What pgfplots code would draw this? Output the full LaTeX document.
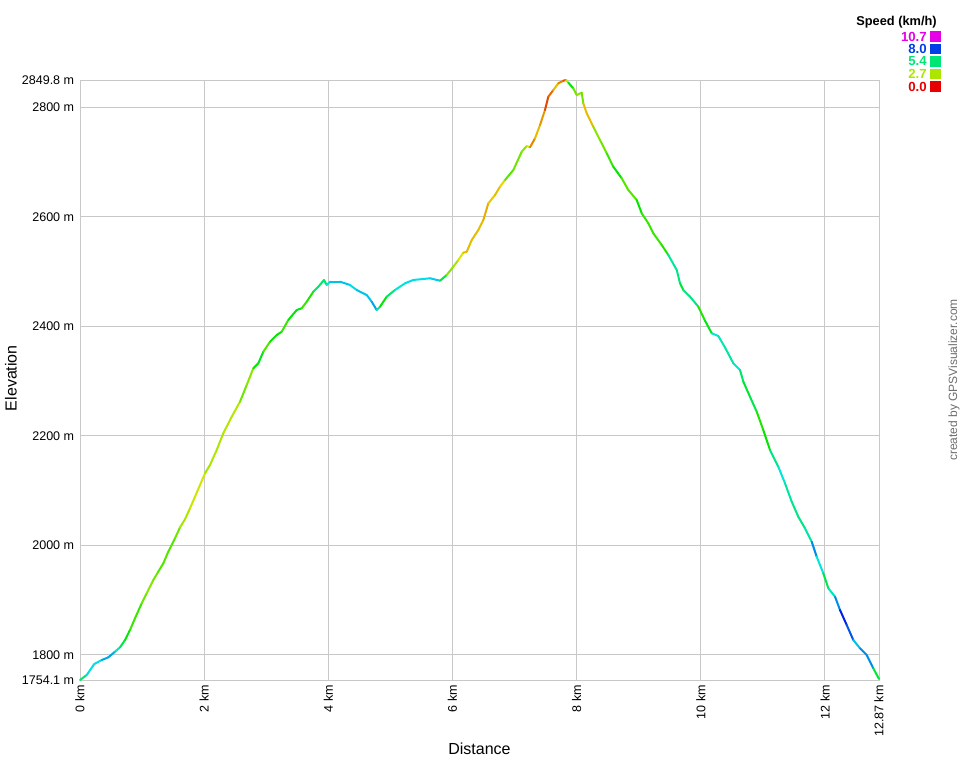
\documentclass[border=0pt]{standalone}
\usepackage{fontspec}
\setmainfont{Liberation Sans}
\usepackage{pgfplots}
\usepackage{pgfplotstable}
\pgfplotsset{compat=1.18}

\definecolor{gridgray}{RGB}{200,200,200}
\definecolor{sp0}{RGB}{230,0,0}
\definecolor{sp1}{RGB}{172,230,0}
\definecolor{sp2}{RGB}{0,230,118}
\definecolor{sp3}{RGB}{0,62,230}
\definecolor{sp4}{RGB}{230,0,230}

% distance (km), elevation (m), speed (km/h)
\pgfplotstableread{
d e s
0.000 1754.1 4
0.108 1763.2 6.5
0.230 1783.3 6.5
0.350 1790.6 6.5
0.456 1795.5 7.5
0.564 1805.8 6.5
0.644 1813.8 5.5
0.725 1827.1 4.5
0.805 1845.4 4
0.886 1866.8 3.5
0.994 1894.2 4
1.074 1912.4 2.5
1.181 1936.7 3.5
1.261 1951.9 3
1.342 1967.2 4
1.422 1988.4 3
1.530 2012.9 4
1.611 2032.9 2.5
1.691 2047.6 3
1.772 2067.6 2.3
1.852 2088.8 2.5
1.933 2110.2 2.2
2.014 2131.6 2.5
2.094 2146.7 3
2.202 2174.1 2.3
2.308 2204.6 3
2.444 2234.9 2.2
2.577 2262.3 3
2.685 2292.8 3.5
2.792 2323.3 2.5
2.872 2332.4 6
2.953 2353.6 3
3.061 2371.9 4
3.169 2384.1 4.5
3.249 2390.1 4
3.355 2411.5 3.5
3.491 2429.8 5
3.571 2432.9 4
3.652 2444.9 3.5
3.758 2463.2 4.5
3.839 2472.3 6
3.930 2484.6 4.5
3.974 2475.4 6
4.027 2481.5 6.5
4.188 2481.5 7
4.349 2475.4 6.5
4.457 2466.3 6.5
4.618 2457.2 7
4.699 2444.9 6.5
4.779 2429.8 7.5
4.832 2435.8 4
4.940 2454.1 4.5
5.074 2466.3 6
5.235 2478.5 6.5
5.369 2484.6 6.5
5.638 2487.7 6.5
5.799 2483.3 6.8
5.907 2493.7 3
6.013 2508.8 3
6.094 2521.1 2.5
6.174 2534.4 2
6.229 2536.2 1.5
6.310 2557.6 2
6.416 2575.9 1.5
6.497 2594.1 2
6.577 2624.6 1.2
6.685 2639.8 2.5
6.765 2654.9 1
6.846 2667.2 3
6.980 2685.4 4
7.115 2718.9 2.5
7.196 2729.3 3.5
7.249 2726.9 1
7.329 2743.3 1.5
7.410 2767.6 2
7.490 2795.0 0.8
7.543 2819.3 0.5
7.624 2831.5 1.5
7.705 2843.8 2
7.785 2848.5 0.5
7.829 2849.8 1
7.866 2844.9 4
7.946 2834.6 4.5
8.001 2822.4 2
8.081 2826.6 4
8.107 2807.2 2.5
8.162 2789.0 1
8.268 2764.5 2.5
8.376 2740.2 3.5
8.484 2715.9 3
8.590 2691.5 4.5
8.726 2670.3 4
8.832 2648.9 3
8.967 2630.7 4
9.048 2606.4 4.5
9.154 2588.1 3
9.235 2569.8 4.5
9.370 2548.5 3
9.477 2530.2 5
9.612 2502.8 6.5
9.665 2478.5 4.5
9.718 2466.3 5
9.826 2454.1 6
9.960 2435.8 5
10.068 2410.1 3
10.176 2387.2 6
10.282 2382.3 6.5
10.390 2361.3 5.5
10.524 2332.4 6
10.631 2320.2 6.5
10.685 2298.8 4
10.792 2271.4 5.5
10.900 2244.1 4.5
11.006 2210.6 3.5
11.114 2174.1 5
11.248 2143.6 6
11.356 2113.3 6.5
11.464 2079.7 5
11.570 2052.3 6
11.678 2031.1 5
11.786 2006.6 6.5
11.866 1979.3 8
11.973 1948.9 4.5
12.054 1921.5 5.5
12.162 1906.2 6.5
12.242 1881.9 8
12.350 1854.5 8.5
12.456 1827.1 7
12.564 1812.0 6.5
12.672 1799.7 8
12.778 1775.4 6.5
12.870 1756.0 3
}\track

\begin{document}
\begin{tikzpicture}
\path[use as bounding box] (0,0) rectangle (720pt,-570pt);
\begin{axis}[
  at={(60pt,-510pt)}, anchor=south west,
  scale only axis, width=599.25pt, height=450pt,
  xmin=0, xmax=12.87, ymin=1754.1, ymax=2849.8,
  clip=false,
  axis line style={gridgray, line width=0.75pt},
  grid=major,
  major grid style={gridgray, line width=0.75pt},
  major tick length=0pt,
  xtick={0,2,4,6,8,10,12,12.87},
  xticklabels={0 km,2 km,4 km,6 km,8 km,10 km,12 km,12.87 km},
  ytick={1754.1,1800,2000,2200,2400,2600,2800,2849.8},
  yticklabels={1754.1 m,1800 m,2000 m,2200 m,2400 m,2600 m,2800 m,2849.8 m},
  tick label style={font=\fontsize{9.4}{10}\selectfont, inner sep=0pt},
  xticklabel style={rotate=90, anchor=east},
  xticklabel shift=3.75pt,
  yticklabel shift=4.2pt,
  xlabel={Distance},
  ylabel={Elevation},
  label style={font=\fontsize{12}{14}\selectfont, inner sep=0pt},
  xlabel style={at={(axis description cs:0.5,-0.115)}, anchor=center},
  ylabel style={at={(axis description cs:-0.0864,0.503)}, anchor=center, rotate=0},
  colormap={gpsv}{rgb255=(230,0,0) rgb255=(230,230,0) rgb255=(0,230,0)
    rgb255=(0,230,230) rgb255=(0,0,230) rgb255=(230,0,230)},
  point meta min=0, point meta max=10.7,
]
\addplot[mesh, point meta=explicit, line width=1.5pt, line cap=round]
  table[x=d, y=e, meta=s] {\track};
\end{axis}

% speed legend
\node[anchor=east, inner sep=0pt, font=\bfseries\fontsize{9.6}{11}\selectfont]
  at (702.75pt,-16.3pt) {Speed (km/h)};
\foreach \lab/\col/\yy in {10.7/sp4/36.5, 8.0/sp3/49, 5.4/sp2/61.5, 2.7/sp1/74, 0.0/sp0/86.5}{
  \node[anchor=east, inner sep=0pt, text=\col, font=\bfseries\fontsize{9.9}{11}\selectfont]
    at (695.25pt,-0.75*\yy pt) {\lab};
  \fill[\col] (697.5pt,-0.75*\yy pt+4.1pt) rectangle (705.75pt,-0.75*\yy pt-4.1pt);
}
\node[rotate=90, inner sep=0pt, text={rgb,255:red,110;green,110;blue,110},
  font=\fontsize{9}{10}\selectfont] at (715.5pt,-285pt) {created by GPSVisualizer.com};
\end{tikzpicture}
\end{document}
